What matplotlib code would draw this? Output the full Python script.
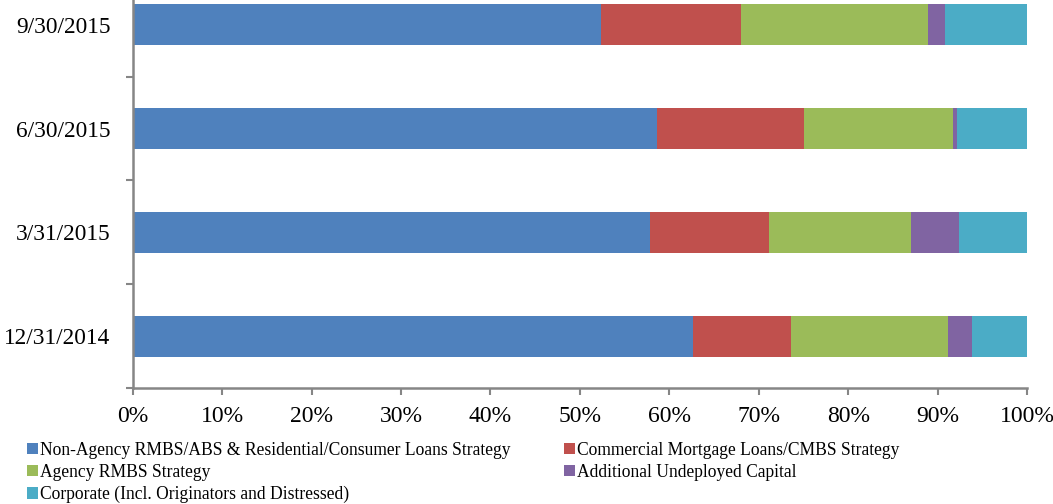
import matplotlib
matplotlib.use("Agg")
import matplotlib.pyplot as plt
import numpy as np
from matplotlib.patches import Patch

plt.rcParams['font.family'] = ['Liberation Serif', 'DejaVu Serif']

dates = ["12/31/2014", "3/31/2015", "6/30/2015", "9/30/2015"]
non_agency = [62.7, 57.9, 58.6, 52.4]
commercial = [10.9, 13.3, 16.5, 15.6]
agency = [17.6, 15.8, 16.6, 20.9]
undeployed = [2.6, 5.4, 0.5, 1.9]
corporate = [6.2, 7.6, 7.8, 9.2]

series = [
    ("Non-Agency RMBS/ABS & Residential/Consumer Loans Strategy", non_agency, "#4F81BD"),
    ("Commercial Mortgage Loans/CMBS Strategy", commercial, "#C0504D"),
    ("Agency RMBS Strategy", agency, "#9BBB59"),
    ("Additional Undeployed Capital", undeployed, "#8064A2"),
    ("Corporate (Incl. Originators and Distressed)", corporate, "#4BACC6"),
]

fig = plt.figure(figsize=(10.53, 5.04), dpi=100)
ax = fig.add_axes([0.126, 0.2302, 0.8493, 0.8234])

y = np.arange(len(dates))
left = np.zeros(len(dates))
handles = {}
for name, vals, color in series:
    vals = np.array(vals, dtype=float)
    ax.barh(y, vals, left=left, height=0.395, color=color, edgecolor="none")
    left += vals
    handles[name] = Patch(facecolor=color, edgecolor="none", label=name)

ax.set_xlim(0, 100)
ax.set_ylim(-0.5, len(dates) - 0.5)
ax.set_xticks(np.arange(0, 101, 10))
ax.set_xticklabels([f"{v}%" for v in range(0, 101, 10)], fontsize=17)
ax.set_yticks(y)
ax.set_yticklabels(dates, fontsize=16.8)
ax.set_yticks(np.arange(-0.5, len(dates), 1.0), minor=True)
ax.tick_params(axis="y", which="major", length=0, pad=16)
ax.tick_params(axis="y", which="minor", length=5, color="#868686", width=1.5, direction="out")
ax.tick_params(axis="x", length=5, color="#868686", width=1.5, direction="out", pad=8)

for s in ["top", "right"]:
    ax.spines[s].set_visible(False)
for s in ["left", "bottom"]:
    ax.spines[s].set_color("#868686")
    ax.spines[s].set_linewidth(1.8)

order = [series[0][0], series[2][0], series[4][0], series[1][0], series[3][0]]
fig.legend(handles=[handles[n] for n in order], loc="upper left",
           bbox_to_anchor=(0.026, 0.124), ncol=2, frameon=False, fontsize=12.65,
           handlelength=0.62, handleheight=0.62, handletextpad=0.12,
           labelspacing=0.3, columnspacing=3.05, borderaxespad=0, borderpad=0)

fig.savefig("out.png", dpi=100)
